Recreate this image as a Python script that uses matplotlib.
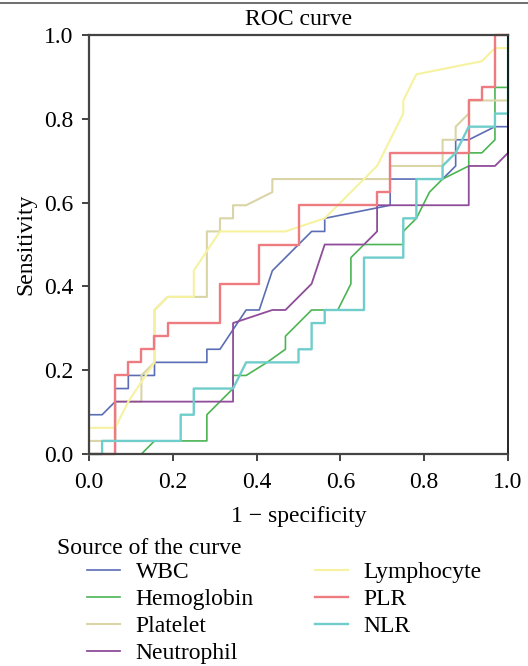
import matplotlib
matplotlib.use('Agg')
import matplotlib.pyplot as plt
from matplotlib.lines import Line2D
import numpy as np

# ROC points in steps of 1/32
n = 32.0
wbc_x = [0, 0, 1, 2, 2, 3, 3, 5, 5, 9, 9, 10, 12, 13, 14, 16, 17, 18, 18, 23, 23, 27, 28, 28, 29, 31, 32, 32]
wbc_y = [0, 3, 3, 4, 5, 5, 6, 6, 7, 7, 8, 8, 11, 11, 14, 16, 17, 17, 18, 19, 21, 21, 22, 24, 24, 25, 25, 32]

hgb_x = [0, 4, 5, 9, 9, 11, 11, 12, 13.6, 15, 15, 17, 19, 20, 20, 21, 24, 24, 25, 26, 27, 29, 29, 30, 31, 31, 32, 32]
hgb_y = [0, 0, 1, 1, 3, 5, 6, 6, 7, 8, 9, 11, 11, 13, 15, 16, 16, 17, 18, 20, 21, 22, 23, 23, 24, 28, 28, 32]

plt_x = [0, 0, 2, 2, 4, 4, 5, 5, 6, 9, 9, 10, 10, 11, 11, 12, 14, 14, 23, 23, 27, 27, 28, 28, 29, 29, 32, 32]
plt_y = [0, 1, 1, 4, 4, 6, 7, 11, 12, 12, 17, 17, 18, 18, 19, 19, 20, 21, 21, 22, 22, 24, 24, 25, 26, 27, 27, 32]

neu_x = [0, 2, 2, 11, 11, 14, 15, 17, 18, 21, 22, 22, 29, 29, 31, 32, 32]
neu_y = [0, 0, 4, 4, 10, 11, 11, 13, 16, 16, 17, 19, 19, 22, 22, 23, 32]

lym_x = [0, 0, 2, 3, 5, 5, 6, 8, 8, 10, 15, 18, 22, 24, 24, 25, 30, 31, 32, 32]
lym_y = [0, 2, 2, 4, 7, 11, 12, 12, 14, 17, 17, 18, 22, 26, 27, 29, 30, 31, 31, 32]

plr_x = [0, 2, 2, 3, 3, 4, 4, 5, 5, 6, 6, 10, 10, 13, 13, 16, 16, 22, 22, 23, 23, 29, 29, 30, 30, 31, 31, 32]
plr_y = [0, 0, 6, 6, 7, 7, 8, 8, 9, 9, 10, 10, 13, 13, 16, 16, 19, 19, 20, 20, 23, 23, 27, 27, 28, 28, 32, 32]

nlr_x = [0, 1, 1, 7, 7, 8, 8, 11, 12, 16, 16, 17, 17, 18, 18, 21, 21, 24, 24, 25, 25, 27, 27, 28, 29, 31, 31, 32, 32]
nlr_y = [0, 0, 1, 1, 3, 3, 5, 5, 7, 7, 8, 8, 10, 10, 11, 11, 15, 15, 18, 18, 21, 21, 22, 23, 25, 25, 26, 26, 32]

names = ['WBC', 'Hemoglobin', 'Platelet', 'Neutrophil', 'Lymphocyte', 'PLR', 'NLR']
colors = ['#5b6db5', '#4cb453', '#d9d5a7', '#8f4c9a', '#f6f2a0', '#ee7b80', '#6fcdcb']
widths = [1.2, 1.2, 1.5, 1.3, 1.5, 1.7, 1.7]
curves = [(wbc_x, wbc_y), (hgb_x, hgb_y), (plt_x, plt_y), (neu_x, neu_y),
          (lym_x, lym_y), (plr_x, plr_y), (nlr_x, nlr_y)]

plt.rcParams['font.family'] = ['Liberation Serif', 'DejaVu Serif']
fs = 17
fig = plt.figure(figsize=(5.28, 6.66), dpi=100)
ax = fig.add_axes([0.1686, 0.3183, 0.7936, 0.6291])

handles = []
for (xs, ys), name, c, w in zip(curves, names, colors, widths):
    h, = ax.plot(np.array(xs) / n, np.array(ys) / n, color=c, lw=w, label=name, clip_on=False)
    handles.append(h)

ax.set_xlim(0, 1)
ax.set_ylim(0, 1)
ticks = [0.0, 0.2, 0.4, 0.6, 0.8, 1.0]
ax.set_xticks(ticks)
ax.set_yticks(ticks)
ax.set_xticklabels(['%.1f' % t for t in ticks])
ax.set_yticklabels(['%.1f' % t for t in ticks])
ax.tick_params(labelsize=fs, length=5, width=1.2, color='#222222')
ax.tick_params(axis='x', pad=8)
ax.tick_params(axis='y', pad=6)
for s in ['left', 'top', 'bottom']:
    ax.spines[s].set_color('#444444')
    ax.spines[s].set_linewidth(1.6)
ax.spines['right'].set_color('black')
ax.spines['right'].set_linewidth(1.2)

ax.set_title('ROC curve', fontsize=fs, pad=7)
ax.set_xlabel('1 \u2212 specificity', fontsize=fs, labelpad=9)
ax.set_ylabel('Sensitivity', fontsize=fs, labelpad=6)

fig.text(0.108, 0.177, 'Source of the curve', fontsize=fs, ha='left', va='center')
fig.legend(handles=handles, labels=names, ncol=2, frameon=False, fontsize=fs,
           loc='upper left', bbox_to_anchor=(0.165, 0.157),
           handlelength=1.4, handletextpad=0.65, columnspacing=2.6,
           labelspacing=0.23, borderpad=0, borderaxespad=0)

fig.add_artist(Line2D([0, 1], [0.995, 0.995], color='#555555', lw=1.2, transform=fig.transFigure))

fig.savefig('out.png', dpi=100)
